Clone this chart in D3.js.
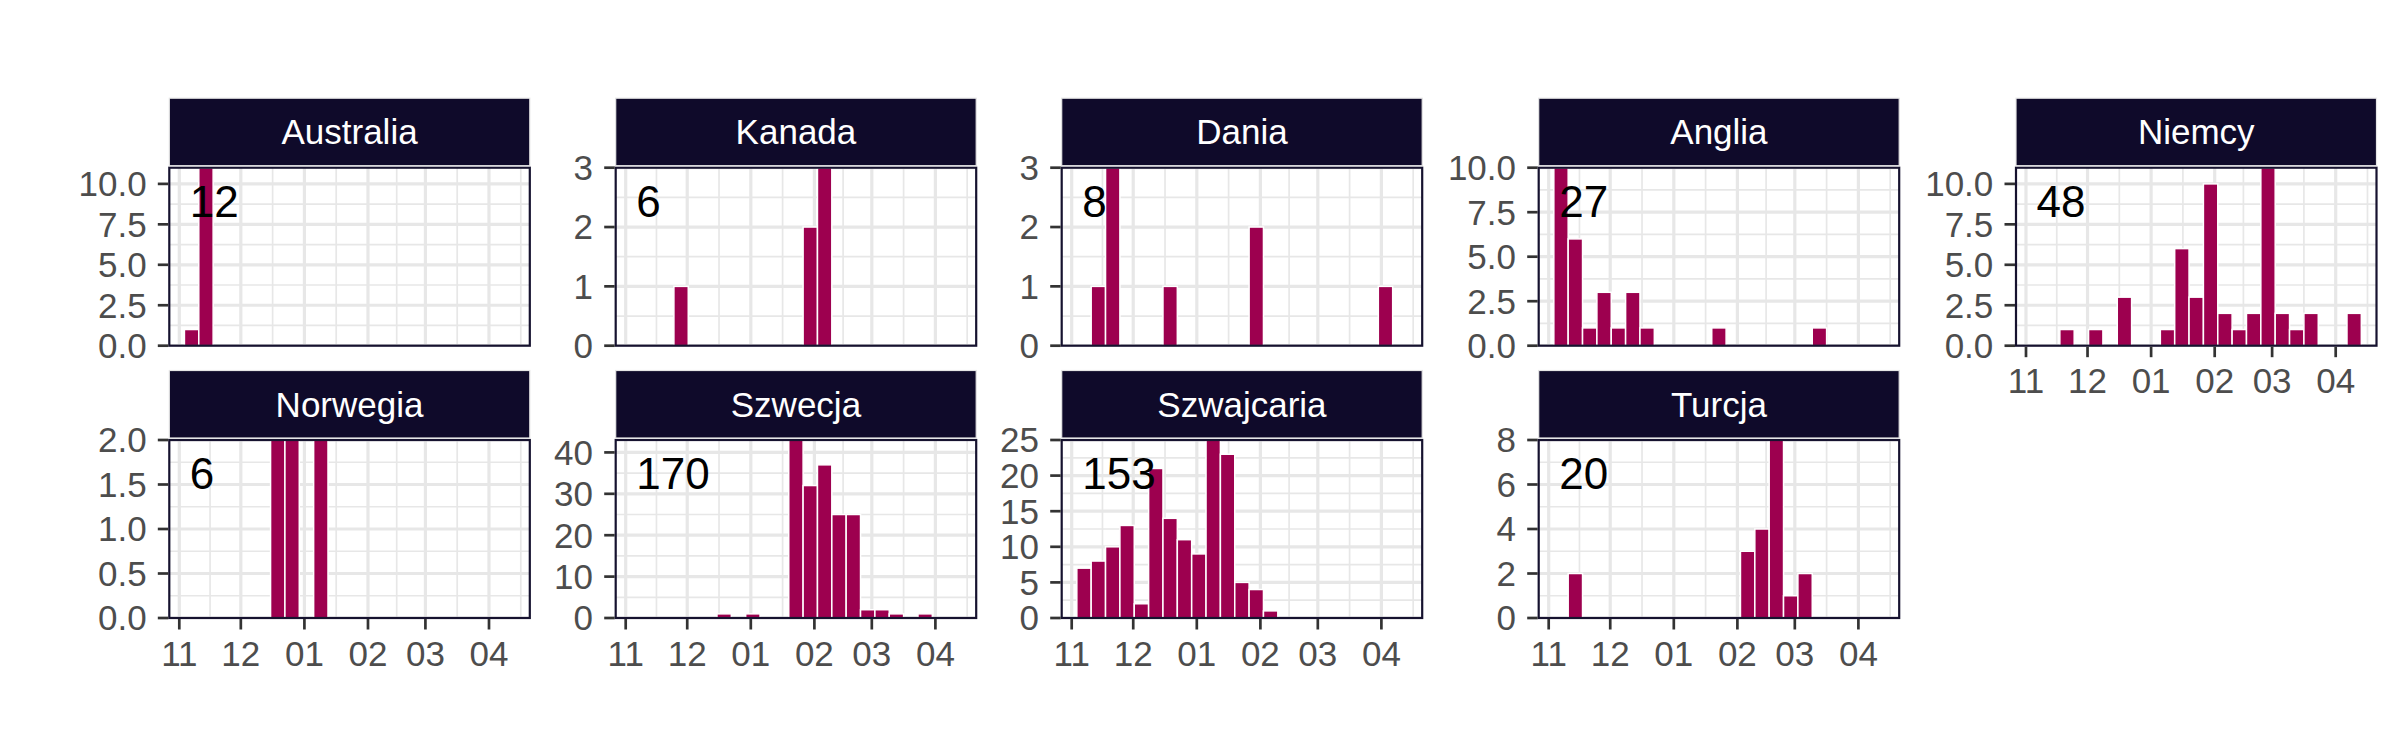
<!DOCTYPE html>
<html>
<head>
<meta charset="utf-8">
<script src="https://cdn.jsdelivr.net/npm/d3@7"></script>
<style>
  html, body { margin: 0; padding: 0; background: #ffffff; }
  svg { display: block; }
  text { font-family: "Liberation Sans", Arial, Helvetica, sans-serif; }
</style>
</head>
<body>
<svg id="chart" width="2400" height="750"></svg>
<script>
// ---------------- DATA ----------------
// weekly bins (centre date of each week)
const weeks = ["2020-11-07","2020-11-14","2020-11-21","2020-11-28","2020-12-05","2020-12-12",
  "2020-12-19","2020-12-26","2021-01-02","2021-01-09","2021-01-16","2021-01-23","2021-01-30",
  "2021-02-06","2021-02-13","2021-02-20","2021-02-27","2021-03-06","2021-03-13","2021-03-20",
  "2021-03-27","2021-04-03","2021-04-10"];

const countries = ["Australia","Kanada","Dania","Anglia","Niemcy","Norwegia","Szwecja","Szwajcaria","Turcja"];

const australia  = [1,11,0,0,0,0,0,0,0,0,0,0,0,0,0,0,0,0,0,0,0,0,0];
const kanada     = [0,0,0,1,0,0,0,0,0,0,0,0,2,3,0,0,0,0,0,0,0,0,0];
const dania      = [0,1,3,0,0,0,1,0,0,0,0,0,2,0,0,0,0,0,0,0,0,1,0];
const anglia     = [10,6,1,3,1,3,1,0,0,0,0,1,0,0,0,0,0,0,1,0,0,0,0];
const niemcy     = [0,0,1,0,1,0,3,0,0,1,6,3,10,2,1,2,11,2,1,2,0,0,2];
const norwegia   = [0,0,0,0,0,0,2,2,0,2,0,0,0,0,0,0,0,0,0,0,0,0,0];
const szwecja    = [0,0,0,0,0,0,1,0,1,0,0,43,32,37,25,25,2,2,1,0,1,0,0];
const szwajcaria = [7,8,10,13,2,21,14,11,9,25,23,5,4,1,0,0,0,0,0,0,0,0,0];
const turcja     = [0,2,0,0,0,0,0,0,0,0,0,0,0,3,4,8,1,2,0,0,0,0,0];

// y tick labels per panel
const ticksAustralia  = ["0.0","2.5","5.0","7.5","10.0"];
const ticksKanada     = ["0","1","2","3"];
const ticksDania      = ["0","1","2","3"];
const ticksAnglia     = ["0.0","2.5","5.0","7.5","10.0"];
const ticksNiemcy     = ["0.0","2.5","5.0","7.5","10.0"];
const ticksNorwegia   = ["0.0","0.5","1.0","1.5","2.0"];
const ticksSzwecja    = ["0","10","20","30","40"];
const ticksSzwajcaria = ["0","5","10","15","20","25"];
const ticksTurcja     = ["0","2","4","6","8"];

// x tick labels (month starts)
const monthTicks = ["2020-11-01","2020-12-01","2021-01-01","2021-02-01","2021-03-01","2021-04-01"];
const monthLabels = ["11","12","01","02","03","04"];
const xDomain = ["2020-10-27T03:00:00Z","2021-04-20T21:30:00Z"];

const seriesList = [australia,kanada,dania,anglia,niemcy,norwegia,szwecja,szwajcaria,turcja];
const tickList = [ticksAustralia,ticksKanada,ticksDania,ticksAnglia,ticksNiemcy,ticksNorwegia,ticksSzwecja,ticksSzwajcaria,ticksTurcja];

// ---------------- LAYOUT ----------------
const colLefts = [169.3, 615.7, 1061.7, 1538.7, 2016];
const rowTops = [167.7, 440];
const PW = 360.5, PH = 178;
const ncol = 5;
const barColor = "#9d004f";
const stripColor = "#0f0a2a";
const gridColor = "#e7e7e7";
const axisTextColor = "#4d4d4d";
const tickColor = "#333333";
const DAY = 86400000;

const parse = s => new Date(s.length === 10 ? s + "T00:00:00Z" : s);
const svg = d3.select("#chart");
svg.append("rect").attr("width", 2400).attr("height", 750).attr("fill", "#ffffff");

const x = d3.scaleUtc().domain(xDomain.map(parse)).range([0, PW]);
const monthDates = monthTicks.map(parse);
// minor x breaks: midpoints between majors, plus one after the last
const minorX = [];
for (let i = 0; i < monthDates.length - 1; i++) {
  minorX.push(new Date((monthDates[i].getTime() + monthDates[i+1].getTime()) / 2));
}
{
  const n = monthDates.length;
  const step = monthDates[n-1] - monthDates[n-2];
  const extra = new Date(monthDates[n-1].getTime() + step / 2);
  if (extra <= x.domain()[1]) minorX.push(extra);
}

countries.forEach((name, i) => {
  const r = Math.floor(i / ncol), c = i % ncol;
  const left = colLefts[c], top = rowTops[r];
  const values = seriesList[i];
  const ticks = tickList[i].map(Number);
  const ymax = d3.max(values);
  const y = d3.scaleLinear().domain([0, ymax]).range([PH, 0]);
  const hasXAxis = (i + ncol >= countries.length);

  const g = svg.append("g").attr("transform", `translate(${left},${top})`);
  const clipId = "clip" + i;
  g.append("clipPath").attr("id", clipId).append("rect").attr("width", PW).attr("height", PH);

  g.append("rect").attr("width", PW).attr("height", PH).attr("fill", "#ffffff");

  const grid = g.append("g").attr("clip-path", `url(#${clipId})`);
  // minor y
  const minorY = [];
  for (let k = 0; k < ticks.length - 1; k++) minorY.push((ticks[k] + ticks[k+1]) / 2);
  grid.selectAll(".ymin").data(minorY).enter().append("line")
    .attr("x1", 0).attr("x2", PW).attr("y1", d => y(d)).attr("y2", d => y(d))
    .attr("stroke", gridColor).attr("stroke-width", 1.7);
  grid.selectAll(".xmin").data(minorX).enter().append("line")
    .attr("y1", 0).attr("y2", PH).attr("x1", d => x(d)).attr("x2", d => x(d))
    .attr("stroke", gridColor).attr("stroke-width", 1.7);
  grid.selectAll(".ymaj").data(ticks).enter().append("line")
    .attr("x1", 0).attr("x2", PW).attr("y1", d => y(d)).attr("y2", d => y(d))
    .attr("stroke", gridColor).attr("stroke-width", 3.2);
  grid.selectAll(".xmaj").data(monthDates).enter().append("line")
    .attr("y1", 0).attr("y2", PH).attr("x1", d => x(d)).attr("x2", d => x(d))
    .attr("stroke", gridColor).attr("stroke-width", 3.2);

  // bars
  const bars = weeks.map((w, k) => ({ date: parse(w), v: values[k] })).filter(d => d.v > 0);
  g.append("g").attr("clip-path", `url(#${clipId})`)
    .selectAll("rect").data(bars).enter().append("rect")
    .attr("x", d => x(new Date(d.date.getTime() - 3.5 * DAY)))
    .attr("width", d => x(new Date(d.date.getTime() + 3.5 * DAY)) - x(new Date(d.date.getTime() - 3.5 * DAY)))
    .attr("y", d => y(d.v))
    .attr("height", d => y(0) - y(d.v))
    .attr("fill", barColor)
    .attr("stroke", "#ffffff").attr("stroke-width", 1.5);

  // total label
  g.append("text")
    .attr("x", 20.5).attr("y", 49)
    .attr("font-size", 44).attr("fill", "#000000")
    .text(d3.sum(values));

  // panel border
  g.append("rect").attr("width", PW).attr("height", PH)
    .attr("fill", "none").attr("stroke", "#16122f").attr("stroke-width", 2.2);

  // y axis ticks + labels
  const ya = g.append("g");
  ya.selectAll("line").data(ticks).enter().append("line")
    .attr("x1", -11.5).attr("x2", -1).attr("y1", d => y(d)).attr("y2", d => y(d))
    .attr("stroke", tickColor).attr("stroke-width", 2.7);
  ya.selectAll("text").data(tickList[i]).enter().append("text")
    .attr("x", -22.7).attr("y", d => y(+d)).attr("dy", "0.355em")
    .attr("text-anchor", "end").attr("font-size", 35).attr("fill", axisTextColor)
    .text(d => d);

  // x axis
  if (hasXAxis) {
    const xa = g.append("g");
    xa.selectAll("line").data(monthDates).enter().append("line")
      .attr("x1", d => x(d)).attr("x2", d => x(d)).attr("y1", PH + 1).attr("y2", PH + 11.5)
      .attr("stroke", tickColor).attr("stroke-width", 2.7);
    xa.selectAll("text").data(monthDates).enter().append("text")
      .attr("x", d => x(d)).attr("y", PH + 47.5)
      .attr("text-anchor", "middle").attr("font-size", 35).attr("fill", axisTextColor)
      .text((d, k) => monthLabels[k]);
  }

  // strip
  g.append("rect")
    .attr("x", 0).attr("y", -69.5).attr("width", PW).attr("height", 67.5)
    .attr("fill", stripColor).attr("stroke", "#e6e6e6").attr("stroke-width", 1.2);
  g.append("text")
    .attr("x", PW / 2).attr("y", -69.5 + 67.5 / 2).attr("dy", "0.357em")
    .attr("text-anchor", "middle").attr("font-size", 35).attr("fill", "#ffffff")
    .text(name);
});
</script>
</body>
</html>
